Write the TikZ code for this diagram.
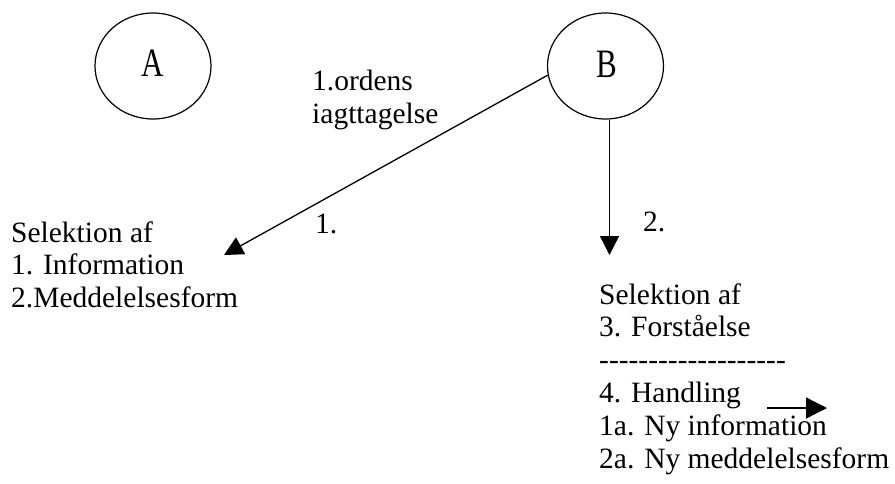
\documentclass[tikz,border=0pt]{standalone}
\usepackage{fontspec}
\setmainfont{Liberation Serif}
\usetikzlibrary{arrows.meta,shapes.geometric}
\begin{document}
\begin{tikzpicture}[x=1pt,y=-1pt,
  txt/.style={anchor=base west,inner sep=0pt,font=\fontsize{29.5}{32}\selectfont},
  letter/.style={anchor=base,inner sep=0pt,font=\fontsize{31}{32}\selectfont},
  circ/.style={ellipse,draw,line width=1.2pt,inner sep=0pt,minimum width=116pt,minimum height=106pt},
  conn/.style={line width=1.3pt,-{Triangle[length=19pt,width=19pt]}}]
\useasboundingbox (0,0) rectangle (895,483);
\node[circ] (A) at (153,66) {};
\node[circ] (B) at (605.5,66) {};
\node[letter] (labA) at (152.5,76.5) {\scalebox{1}[1.3]{A}};
\node[letter] (labB) at (607,77) {\scalebox{1}[1.3]{B}};
% first-order observation label
\node[txt] (obs1) at (312,90) {1.ordens};
\node[txt] (obs2) at (312,123) {iagttagelse};
% connectors
\coordinate (t1) at (224,255);
\coordinate (t2) at (609.5,255);
\draw[conn] (B.189.5) -- (t1);
\draw[conn] (B.south -| t2) -- (t2);
\node[txt] (n1) at (315,233) {1.};
\node[txt] (n2) at (643,231) {2.};
% left block
\node[txt] (l1) at (11,242) {Selektion af};
\node[txt] (l2) at (11,274.5) {1. Information};
\node[txt] (l3) at (11,307) {2.Meddelelsesform};
% right block
\node[txt] (r1) at (599,304) {Selektion af};
\node[txt] (r2) at (599,336.8) {3. Forståelse};
\node[txt] (r3) at (599,369.6) {-{}-{}-{}-{}-{}-{}-{}-{}-{}-{}-{}-{}-{}-{}-{}-{}-{}-{}-};
\node[txt] (r4) at (599,402.4) {4. Handling};
\node[txt] (r5) at (599,435.2) {1a. Ny information};
\node[txt] (r6) at (599,468) {2a. Ny meddelelsesform};
\coordinate (h1) at (767,408);
\coordinate (h2) at (827,408);
\draw[line width=1.3pt,-{Triangle[length=21pt,width=21pt]}] (h1) -- (h2);
\end{tikzpicture}
\end{document}
